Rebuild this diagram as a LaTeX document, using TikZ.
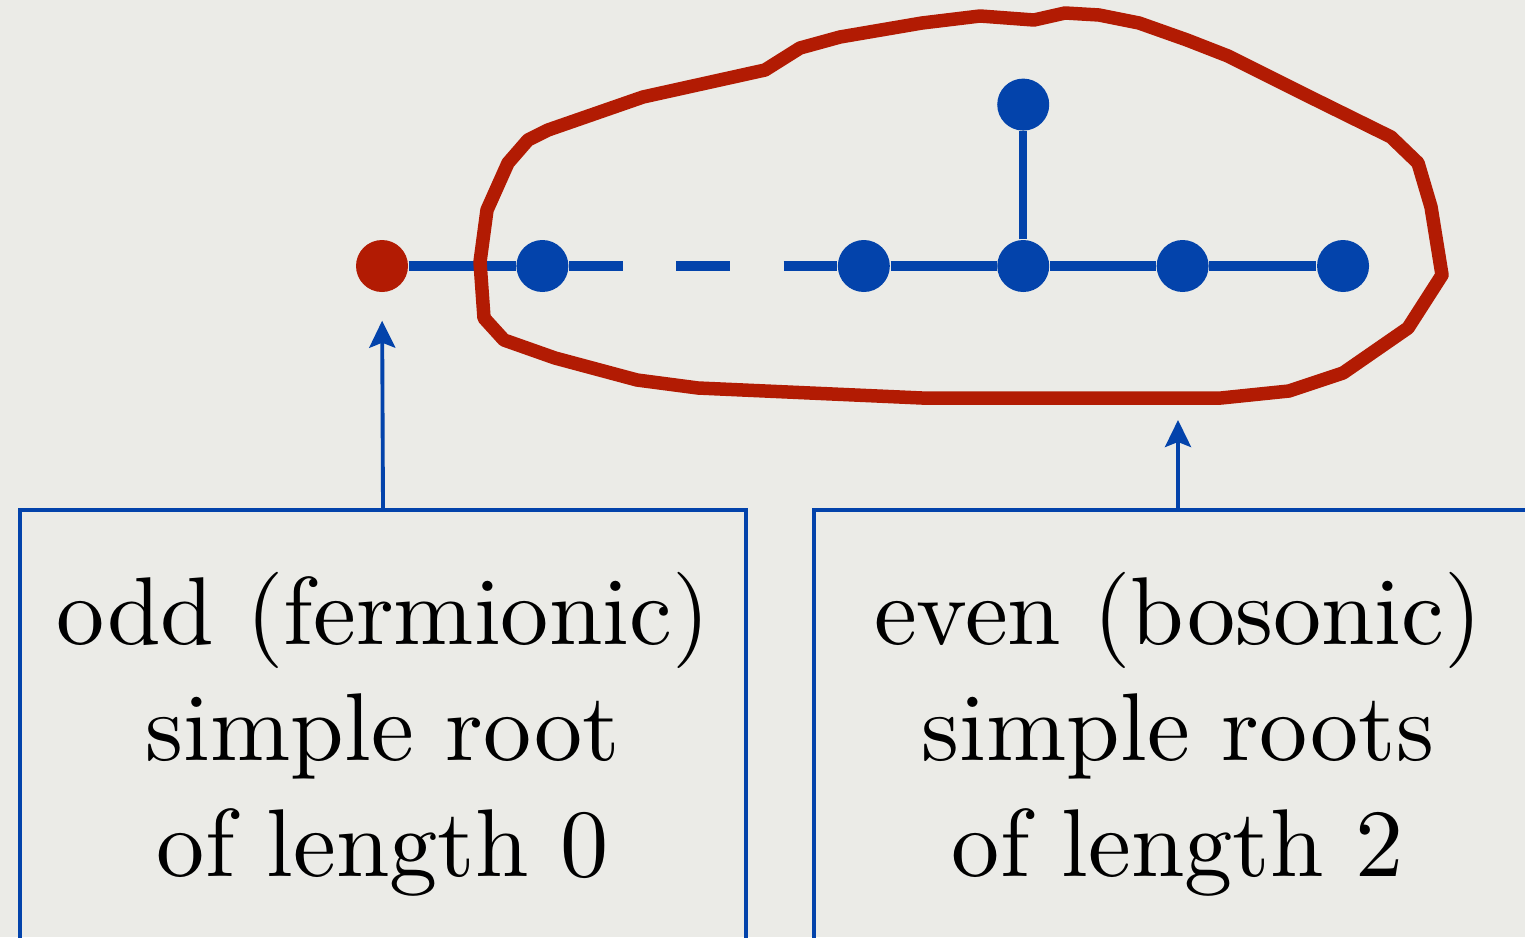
\documentclass[tikz,border=0pt]{standalone}
\usepackage{fontspec}
\setmainfont{lmroman10-regular.otf}
\usetikzlibrary{arrows.meta,positioning}

\definecolor{rootblue}{RGB}{3,67,171}
\definecolor{rootred}{RGB}{178,27,3}
\definecolor{slide}{RGB}{235,235,231}

\begin{document}
\begin{tikzpicture}[
    >={Stealth[length=0.27cm,width=0.26cm,inset=0.05cm]},
    node distance=1.07cm,
    root/.style={
        circle,
        fill=rootblue,
        inner sep=0pt,
        minimum size=0.52cm
    },
    oddroot/.style={
        root,
        fill=rootred
    },
    link/.style={
        draw=rootblue,
        line width=0.1cm
    },
    lasso/.style={
        draw=rootred,
        line width=0.135cm,
        line join=round
    },
    textbox/.style={
        draw=rootblue,
        line width=1.1pt,
        align=center,
        anchor=north,
        font=\fontsize{27.4}{33}\selectfont,
        minimum height=4.48cm
    },
    pointer/.style={
        ->,
        draw=rootblue,
        line width=1.1pt
    }
]

% Slide background
\useasboundingbox (0,0) rectangle (15.25,9.37);
\fill[slide] (0,0) rectangle (15.25,9.37);
\clip (0,0) rectangle (15.25,9.37);

% Dynkin diagram
\node[oddroot] (r0) at (3.82,6.71) {};
\node[root, right=of r0] (r1) {};
\node[root, right=2.68cm of r1] (r2) {};
\node[root, right=1.06cm of r2] (r3) {};
\node[root, right=1.06cm of r3] (r4) {};
\node[root, right=of r4] (r5) {};
\node[root, above=1.08cm of r3] (r6) {};

\draw[link] (r0) -- (r1);
\draw[link, dash pattern=on 0.536cm off 0.536cm] (r1) -- (r2);
\draw[link] (r2) -- (r3);
\draw[link] (r3) -- (r4);
\draw[link] (r4) -- (r5);
\draw[link, line width=0.08cm] (r3) -- (r6);

% Hand-drawn loop round the even roots
\draw[lasso] (7.65,8.67) -- (8.00,8.89) -- (8.40,9.00) -- (9.22,9.14)
    -- (9.80,9.21) -- (10.34,9.17) -- (10.65,9.24) -- (10.99,9.22)
    -- (11.39,9.14) -- (11.87,8.97) -- (12.28,8.81) -- (13.10,8.40)
    -- (13.91,8.00) -- (14.18,7.74) -- (14.31,7.30) -- (14.42,6.62)
    -- (14.08,6.09) -- (13.43,5.64) -- (12.89,5.46) -- (12.21,5.39)
    -- (9.22,5.39) -- (6.98,5.49) -- (6.37,5.57) -- (5.55,5.79)
    -- (5.04,5.97) -- (4.84,6.19) -- (4.80,6.75) -- (4.87,7.27)
    -- (5.08,7.74) -- (5.28,7.97) -- (5.48,8.07) -- (6.43,8.40)
    -- cycle;
\coordinate (loopbottom) at (11.78,5.39);

% Explanation boxes
\node[textbox, minimum width=7.26cm] (oddbox) at (3.83,4.29) {
    odd (fermionic)\\
    simple root\\
    of length 0
};
\node[textbox, minimum width=7.28cm] (evenbox) at (11.78,4.29) {
    even (bosonic)\\
    simple roots\\
    of length 2
};

% Connections
\draw[pointer, shorten >=0.28cm] (oddbox.north) -- (r0.south);
\draw[pointer, shorten >=0.22cm] (evenbox.north) -- (loopbottom);

\end{tikzpicture}
\end{document}
